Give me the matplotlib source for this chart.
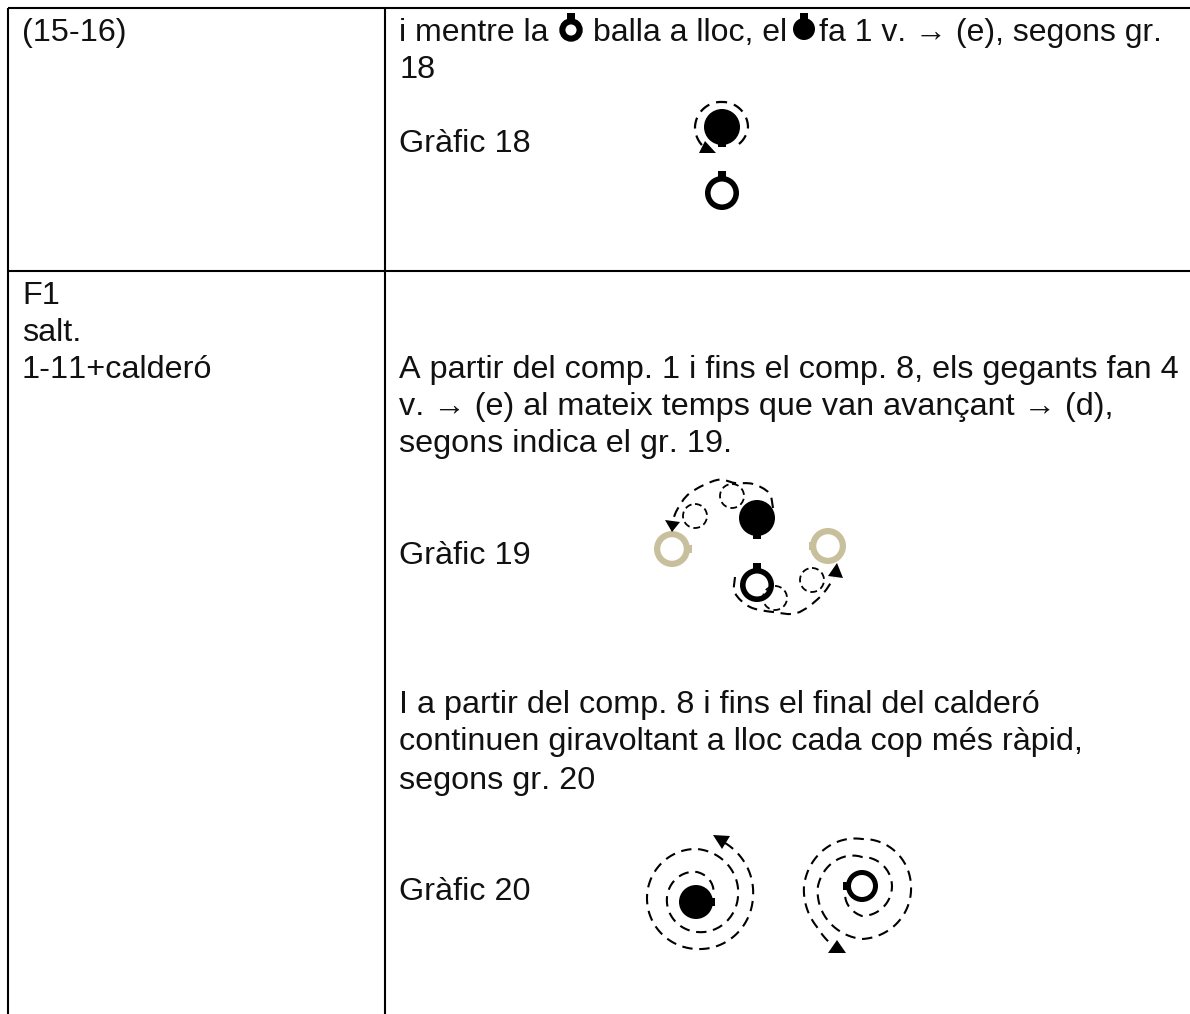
import numpy as np
import matplotlib
matplotlib.use('Agg')
import matplotlib.pyplot as plt
from matplotlib.path import Path
from matplotlib.patches import PathPatch, Circle, Rectangle, Polygon

plt.rcParams['font.family'] = ['Liberation Sans', 'DejaVu Sans']
plt.rcParams['text.kerning_factor'] = 6

left_labels = ['(15-16)', 'F1', 'salt.', '1-11+calderó']
left_baselines = [41, 304, 341, 378]

right_labels = ['18',
                'A partir del comp. 1 i fins el comp. 8, els gegants fan 4',
                'v. → (e) al mateix temps que van avançant → (d),',
                'segons indica el gr. 19.',
                'I a partir del comp. 8 i fins el final del calderó',
                'continuen giravoltant a lloc cada cop més ràpid,',
                'segons gr. 20']
right_baselines = [78, 378, 415, 452, 713, 750, 789]

graph_labels = ['Gràfic 18', 'Gràfic 19', 'Gràfic 20']
graph_baselines = [152, 564, 900]

inline_parts = ['i mentre la', 'balla a lloc, el', 'fa 1 v. → (e), segons gr.']
inline_x = [399, 593, 819]

# spirals of graph 20, radius read at each angle around the figure
spiral_left_angle = [24, 90, 180, 270, 360, 450, 540, 630, 720, 784]
spiral_left_radius = [18, 25, 30, 35, 41, 48, 50, 52, 56, 61]
spiral_right_angle = [213, 270, 360, 450, 540, 630, 720, 810, 900, 944, 963]
spiral_right_radius = [20, 30, 30, 29, 44, 53, 49, 47, 58, 61, 66]

TAN = '#c8c09c'
FS = 23.3
DASH = (0, (5, 3.2))


def smooth_path(pts, k):
    # catmull-rom through the points, as bezier segments, k = handle length
    pts = np.array(pts, dtype=float)
    p = np.vstack([pts[0], pts, pts[-1]])
    verts = [pts[0]]
    codes = [Path.MOVETO]
    for i in range(1, len(p) - 2):
        verts += [p[i] + (p[i + 1] - p[i - 1]) * k, p[i + 1] - (p[i + 2] - p[i]) * k, p[i + 1]]
        codes += [Path.CURVE4] * 3
    return Path(verts, codes)


def dashed(ax, pts, k=0.167, lw=1.5):
    ax.add_patch(PathPatch(smooth_path(pts, k), fill=False, ec='black', lw=lw,
                           ls=DASH, capstyle='butt'))


def spiral(ax, cx, cy, angles, radii, lw=1.5):
    theta = np.arange(angles[0], angles[-1] + 1, 3.0)
    r = np.interp(theta, angles, radii)
    x = cx + r * np.cos(np.radians(theta))
    y = cy - r * np.sin(np.radians(theta))
    ax.plot(x, y, color='black', lw=lw, ls=DASH, dash_capstyle='butt')


def small_circle(ax, x, y, r=12):
    ax.add_patch(Circle((x, y), r, fill=False, ec='black', lw=1.3, ls=(0, (3.8, 2.2))))


def giant(ax, x, y, r, filled=True, color='black', tab='down', tab_len=21, lw=4.0):
    # body plus the little square tab that marks the front of the figure
    w = 8
    if tab == 'down':
        box = (x - w / 2, y, w, tab_len)
    elif tab == 'up':
        box = (x - w / 2, y - tab_len, w, tab_len)
    elif tab == 'left':
        box = (x - tab_len, y - w / 2, tab_len, w)
    else:
        box = (x, y - w / 2, tab_len, w)
    ax.add_patch(Rectangle(box[:2], box[2], box[3], fc=color, ec='none'))
    if filled:
        ax.add_patch(Circle((x, y), r, fc=color, ec='none'))
    else:
        ax.add_patch(Circle((x, y), r - lw * 100 / 72 / 2, fc='white', ec=color, lw=lw))


def arrowhead(ax, pts):
    ax.add_patch(Polygon(pts, closed=True, fc='black', ec='none'))


fig = plt.figure(figsize=(11.9, 10.14), dpi=100)
ax = fig.add_axes([0, 0, 1, 1])
ax.set_xlim(0, 1190)
ax.set_ylim(1014, 0)
ax.axis('off')

# table rules
ax.plot([8, 1190], [8, 8], color='black', lw=1.5, solid_capstyle='butt')
ax.plot([8, 1190], [271, 271], color='black', lw=1.5, solid_capstyle='butt')
ax.plot([8, 8], [8, 1014], color='black', lw=1.5, solid_capstyle='butt')
ax.plot([385, 385], [8, 1014], color='black', lw=1.5, solid_capstyle='butt')

# text
for s, y in zip(left_labels, left_baselines):
    ax.text(22, y, s, fontsize=FS, va='baseline', ha='left', color='#111111')
for s, y in zip(right_labels, right_baselines):
    ax.text(399, y, s, fontsize=FS, va='baseline', ha='left', color='#111111')
for s, y in zip(graph_labels, graph_baselines):
    ax.text(399, y, s, fontsize=FS, va='baseline', ha='left', color='#111111')
for s, x in zip(inline_parts, inline_x):
    ax.text(x, 41, s, fontsize=23, va='baseline', ha='left', color='#111111')

# inline symbols in the first line
giant(ax, 571, 30, 11.7, filled=False, tab='up', tab_len=17, lw=4.4)
giant(ax, 804, 29, 11, filled=True, tab='up', tab_len=16)

# graph 18
giant(ax, 722, 127, 18, filled=True, tab='down', tab_len=20)
giant(ax, 722, 193, 17, filled=False, tab='up', tab_len=22)
spiral(ax, 722, 127, [-45, 0, 90, 180, 225], [24, 26, 25, 27, 27], lw=1.6)
arrowhead(ax, [(705, 141), (699, 153), (716, 153)])

# graph 19
giant(ax, 757, 518, 18, filled=True, tab='down', tab_len=21)
giant(ax, 757, 585, 17, filled=False, tab='up', tab_len=22)
giant(ax, 672, 549, 18, filled=False, color=TAN, tab='right', tab_len=20, lw=4.5)
giant(ax, 828, 546, 18, filled=False, color=TAN, tab='left', tab_len=19, lw=4.5)
for cx, cy in [(732, 496), (695, 516), (775, 598), (812, 580)]:
    small_circle(ax, cx, cy)
dashed(ax, [(773, 508), (769, 493), (753, 484), (735, 483), (717, 480), (690, 493), (677, 510), (672, 524)])
arrowhead(ax, [(672, 532), (665, 520), (680, 522)])
dashed(ax, [(735, 577), (735, 593), (750, 607), (773, 612), (797, 613), (820, 597), (834, 578)])
arrowhead(ax, [(837, 563), (828, 576), (843, 578)])

# graph 20
giant(ax, 696, 902, 17, filled=True, tab='right', tab_len=19)
giant(ax, 862, 886, 16, filled=False, tab='left', tab_len=19, lw=3.6)
spiral(ax, 697, 897, spiral_left_angle, spiral_left_radius)
arrowhead(ax, [(713, 835), (730, 836), (722, 849)])
spiral(ax, 862, 886, spiral_right_angle, spiral_right_radius)
arrowhead(ax, [(837, 940), (828, 953), (846, 953)])

fig.savefig('out.png', dpi=100)
